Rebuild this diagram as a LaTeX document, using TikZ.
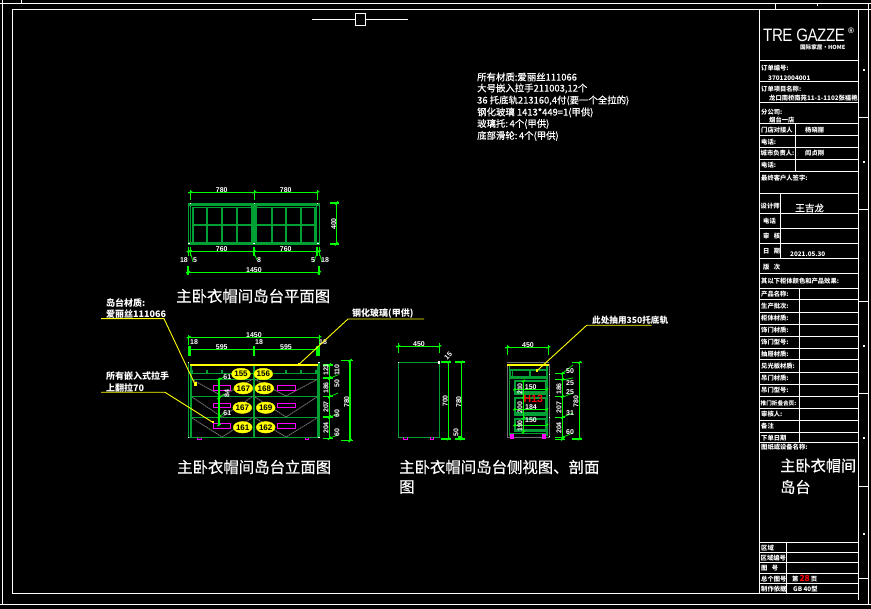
\documentclass[tikz,border=0pt]{standalone}
\usepackage{fontspec}
\setmainfont{Noto Sans CJK SC}
\newfontfamily\latinfont{Liberation Sans}
\newfontfamily\digfont{Liberation Sans}
\definecolor{dimg}{HTML}{00FF00}
\definecolor{cabg}{HTML}{00A035}
\definecolor{yel}{HTML}{FFFF00}
\definecolor{mag}{HTML}{FF00FF}
\definecolor{gry}{HTML}{707070}
\usetikzlibrary{shapes.geometric}
\tikzset{
  frameline/.style={draw=white,line width=1pt},
  tb/.style={anchor=west,text=white,inner sep=0pt,font=\fontsize{6.3}{6.3}\selectfont\bfseries},
  note/.style={anchor=west,text=white,inner sep=0pt,font=\fontsize{9.4}{9.4}\selectfont\addfontfeature{FakeBold=0.5}},
  bigt/.style={anchor=west,text=white,inner sep=0pt,font=\fontsize{15.4}{15.4}\selectfont\addfontfeature{FakeBold=0.6}},
  lab/.style={anchor=west,text=white,inner sep=0pt,font=\fontsize{9}{9}\selectfont\bfseries},
  dimt/.style={text=white,inner sep=0pt,font=\fontsize{7}{7}\selectfont\bfseries\digfont},
  dimline/.style={draw=dimg,line width=1.1pt},
  cab/.style={draw=cabg,line width=1.1pt},
  cabt/.style={draw=cabg,line width=1.6pt},
  lead/.style={draw=yel,line width=0.9pt},
  drawerpull/.style={draw=mag,line width=1pt},
  ghost/.style={draw=gry,line width=0.9pt,dash pattern=on 1.6pt off 0.6pt},
  oval/.style={ellipse,draw=yel,fill=yel,text=black,inner sep=0pt,minimum width=18pt,minimum height=11.5pt,font=\fontsize{8}{8}\selectfont\bfseries\digfont},
}
\begin{document}
\begin{tikzpicture}[x=1pt,y=-1pt]
\useasboundingbox (0,0) rectangle (871,609);
\fill[black] (0,0) rectangle (871,609);
% ---- sheet frame
\draw[frameline] (0,3.3) -- (871,3.3);
\draw[frameline] (2.5,0) -- (2.5,604.3);
\draw[frameline] (0,604.3) -- (871,604.3);
\draw[frameline] (868.3,3.3) -- (868.3,604.3);
\draw[frameline] (12.5,9.3) -- (871,9.3);
\draw[frameline] (12.5,9.3) -- (12.5,593.7) -- (858.3,593.7);
\draw[frameline] (858.3,9.3) -- (858.3,600);
\draw[frameline] (21.5,0) -- (21.5,3.3);
\draw[frameline] (775,3.3) -- (775,9.3);
\draw[frameline] (817,3.3) -- (817,6.3);
\foreach \y in {118,210,302,394,487,579} \draw[frameline] (858.3,\y) -- (868.3,\y);
\foreach \y in {70,162,346,438,534} \fill[white] (863,\y-1) rectangle (865,\y+1);
% centre mark
\draw[frameline] (312,19.3) -- (355,19.3) (365.7,19.3) -- (408,19.3);
\draw[frameline] (355,13.3) rectangle (365.7,25.3);
% ---- title block
\draw[frameline] (759.5,9.3) -- (759.5,593.7);
\foreach \y in {61,82,103,124,136,147.7,159.3,171.7,194,213.3,228.5,243.3,258.3,274,288.3,300,312.3,324.3,336.3,348.3,360,372.3,384.3,396.3,408.3,420.3,432.3,442.3,542.3,552.3,562.3,573.3,583.3}
  \draw[frameline] (759.5,\y) -- (858.3,\y);
\draw[frameline] (795.7,124) -- (795.7,171.7);
\draw[frameline] (780.3,194) -- (780.3,258.3);
\draw[frameline] (799.3,288.3) -- (799.3,442.3);
\draw[frameline] (786.3,542.3) -- (786.3,593.7);
% logo
\node[anchor=west,text=white,inner sep=0pt] (logo) at (763,35) {\scalebox{0.84}[1]{\latinfont\fontsize{18}{18}\selectfont\addfontfeature{LetterSpace=-3}TRE GAZZE}};
\node[text=white,inner sep=0pt,font=\latinfont\fontsize{8}{8}\selectfont\bfseries] (logor) at (851,30.5) {®};
\node[anchor=east,text=white,inner sep=0pt,font=\fontsize{5.6}{5.6}\selectfont\bfseries] (logos) at (845.5,47) {国际家居·HOME};
% title block text
\node[tb] (t1) at (761,68) {订单编号:};
\node[tb] (t2) at (768,78) {37012004001};
\node[tb] (t3) at (761,89) {订单项目名称:};
\node[tb] (t4) at (769,98) {龙口南桥南苑11-1-1102张福艳};
\node[tb] (t5) at (761,112) {分公司:};
\node[tb] (t6) at (769,120) {烟台一店};
\node[tb] (t7) at (761,130) {门店对接人};
\node[tb] (t8) at (805,130) {杨晓丽};
\node[tb] (t9) at (761,142) {电话:};
\node[tb] (t10) at (760.5,153.5) {城市负责人:};
\node[tb] (t11) at (805,153.5) {阎贞刚};
\node[tb] (t12) at (761,165.5) {电话:};
\node[tb] (t13) at (761,178) {最终客户人签字:};
\node[tb] (t14) at (760.5,206) {设计师};
\node[anchor=west,text=white,inner sep=0pt,font=\fontsize{9.6}{9.6}\selectfont\addfontfeature{FakeBold=0.5}] (t15) at (795,208) {王吉龙};
\node[tb] (t16) at (763,221) {电话};
\node[tb] (t17) at (763,236) {审\ \ \ 核};
\node[tb] (t18) at (763,251) {日\ \ \ 期};
\node[tb] (t19) at (790,254) {2021.05.30};
\node[tb] (t20) at (763,267) {版\ \ \ 次};
\node[tb] (t21) at (761,281.5) {其以下柜体颜色和产品效果:};
\node[tb] (t22) at (761,294.5) {产品名称:};
\node[tb] (t23) at (761,306.5) {生产批次:};
\node[tb] (t24) at (761,318.5) {柜体材质:};
\node[tb] (t25) at (761,330.5) {饰门材质:};
\node[tb] (t26) at (761,342.5) {饰门型号:};
\node[tb] (t27) at (761,354.5) {抽屉材质:};
\node[tb] (t28) at (761,366) {见光板材质:};
\node[tb] (t29) at (761,378) {吊门材质:};
\node[tb] (t30) at (761,390) {吊门型号:};
\node[tb,font=\fontsize{5.6}{5.6}\selectfont\bfseries] (t31) at (760.5,403) {推门折叠合页:};
\node[tb] (t32) at (761,414) {审核人:};
\node[tb] (t33) at (761,426.5) {备注};
\node[tb] (t34) at (761,438) {下单日期};
\node[tb] (t35) at (761,447.5) {图纸或设备名称:};
\node[anchor=west,text=white,inner sep=0pt,font=\fontsize{15.2}{15.2}\selectfont\addfontfeature{FakeBold=0.6}] (t36) at (780,465.5) {主卧衣帽间};
\node[anchor=west,text=white,inner sep=0pt,font=\fontsize{15.2}{15.2}\selectfont\addfontfeature{FakeBold=0.6}] (t37) at (780,487) {岛台};
\node[tb] (t38) at (761,548) {区域};
\node[tb] (t39) at (760.5,558) {区域编号};
\node[tb] (t40) at (761,568) {图\ \ \ 号};
\node[tb] (t41) at (761,579) {总个图号};
\node[tb] (t42) at (761,589) {制作依据};
\node[tb] (t43) at (792,578.5) {第\,{\color{red}\fontsize{8.5}{8.5}\selectfont 28}\,页};
\node[tb] (t44) at (793,589) {GB 40型};
% ---- notes
\node[note] (n1) at (477,77) {所有材质:爱丽丝111066};
\node[note] (n2) at (477,88.5) {大号嵌入拉手211003,12个};
\node[note] (n3) at (477,100.5) {36 托底轨213160,4付(要一个全拉的)};
\node[note] (n4) at (477,112.5) {钢化玻璃 1413*449=1(甲供)};
\node[note] (n5) at (477,124) {玻璃托:\,4个(甲供)};
\node[note] (n6) at (477,136) {底部滑轮:\,4个(甲供)};
% ---- plan view
\draw[cab] (188.3,203.3) rectangle (319.3,244);
\draw[cab] (190.7,203.3) -- (190.7,244) (316.7,203.3) -- (316.7,244);
\fill[cabg] (188.3,203.3) rectangle (319.3,206.5);
\fill[cabg] (188.3,242.5) rectangle (319.3,244.5);
\fill[cabg] (251,203.3) rectangle (256.7,244);
\foreach \x in {192.7,206.7,221.7,236.7,271.7,286,300.7,315.2} \draw[cabt] (\x,207) -- (\x,243);
\draw[cabt] (192.7,225) -- (251,225) (256.7,225) -- (315.2,225);
\draw[cab] (192.7,207.3) -- (251,207.3) (256.7,207.3) -- (315.2,207.3);
\foreach \x/\y in {190.3/203.3,254.3/203.3,317.3/203.3,189/243.5,254/243.5,318/243.5} \fill[white] (\x-0.7,\y-0.7) rectangle (\x+0.7,\y+0.7);
\draw[dimline] (190.3,192.3) -- (317.3,192.3);
\foreach \x in {190.3,254.3,317.3} {\draw[dimline] (\x,190) -- (\x,200); \draw[dimline,line width=1.3pt] (\x-2,193) -- (\x+2,191.5);}
\draw[dimline] (188,251.3) -- (320,251.3);
\foreach \x in {188.3,190.5,254,317,319.3} {\draw[dimline] (\x,247) -- (\x,256); \draw[dimline,line width=1.3pt] (\x-1.5,252) -- (\x+1.5,250.5);}
\draw[dimline,line width=0.7pt] (190.5,253) -- (193,262) (254,253) -- (257,260) (317,253) -- (314,262) (319.3,253) -- (322,262);
\draw[dimline] (188,272.3) -- (319,272.3);
\foreach \x in {188,319} {\draw[dimline] (\x,266) -- (\x,275); \draw[dimline,line width=1.3pt] (\x-2,273) -- (\x+2,271.5);}
\draw[dimline] (336.3,203) -- (336.3,244);
\foreach \y in {203,244} {\draw[dimline] (330,\y) -- (339,\y); \draw[dimline,line width=1.3pt] (335,\y+1.5) -- (338,\y-1.5);}
\node[dimt] (p1) at (221.7,189.7) {780};
\node[dimt] (p2) at (285.7,189.7) {780};
\node[dimt] (p3) at (221.7,249) {760};
\node[dimt] (p4) at (285.7,249) {760};
\node[dimt] (p5) at (184,260) {18};
\node[dimt] (p6) at (195,260) {5};
\node[dimt] (p7) at (259,260) {8};
\node[dimt] (p8) at (313,260) {5};
\node[dimt] (p9) at (325,260) {18};
\node[dimt] (p10) at (254,270) {1450};
\node[dimt,rotate=90] (p11) at (333.7,224) {400};
\node[bigt] (title1) at (176,296) {主卧衣帽间岛台平面图};
% ---- elevation
\draw[cab] (188.3,362) -- (188.3,437.3) -- (319,437.3) -- (319,362);
\draw[cab] (191,366) -- (191,437) (317.5,366) -- (317.5,437);
\foreach \y in {373.3,379.3,396.3,417.3} \draw[cab] (191,\y) -- (317.5,\y);
\draw[cabt] (253.7,366) -- (253.7,437.3);
\foreach \x in {192,206.7,221.7,236.7,270.7,286,300.7,316} \fill[cabg] (\x-0.8,370) rectangle (\x+0.8,373);
\draw[draw=yel,line width=2pt] (190,364.7) -- (317.7,364.7);
\foreach \x/\y in {188.3/362.5,319/362.5,188.3/437.5,319/437.5} \fill[white] (\x-0.7,\y-0.7) rectangle (\x+0.7,\y+0.7);
\foreach \a/\b in {379.5/396,397/417,418/437}
  \draw[ghost] (192,\a) -- (222,\b) -- (252,\a) (255,\a) -- (286,\b) -- (317,\a);
\foreach \a/\b in {385.3/390.7,403.3/407.7,423.3/428.7} {
  \draw[drawerpull] (213.3,\a) rectangle (230.7,\b);
  \draw[drawerpull] (277.3,\a) rectangle (295,\b);
}
\draw[drawerpull] (197,438) -- (197,440) -- (201.5,440) -- (201.5,438);
\draw[drawerpull] (305,438) -- (305,440) -- (308.5,440) -- (308.5,438);
\node[oval] (o1) at (241,374) {155};
\node[oval] (o2) at (263.3,374) {156};
\node[oval] (o3) at (243.3,388.3) {167};
\node[oval] (o4) at (264.3,388.3) {168};
\node[oval] (o5) at (242.3,407.7) {167};
\node[oval] (o6) at (265.7,407.7) {169};
\node[oval] (o7) at (242.7,427.3) {161};
\node[oval] (o8) at (265.7,427.3) {162};
% interior dims
\draw[dimline] (219,379) -- (219,425);
\foreach \y in {379,398,417,425} {\draw[dimline,line width=1.3pt] (217.5,\y+1) -- (220.5,\y-1);}
\draw[dimline,line width=0.7pt] (219,380) -- (224,377) (219,398) -- (224,394) (219,417) -- (224,413);
\node[dimt] (e1) at (227.3,377) {61};
\node[dimt,rotate=90] (e2) at (227,394) {84};
\node[dimt] (e3) at (227.3,413) {61};
% top dims
\draw[dimline] (188.7,337.3) -- (319.3,337.3);
\foreach \x in {188.7,319.3} {\draw[dimline] (\x,335) -- (\x,345); \draw[dimline,line width=1.3pt] (\x-2,338) -- (\x+2,336.5);}
\draw[dimline] (188.7,349.3) -- (319.3,349.3);
\foreach \x in {189,190.5,254,317,319} {\draw[dimline] (\x,346) -- (\x,356);}
\node[dimt] (e4) at (254,334.7) {1450};
\node[dimt] (e5) at (194,342) {18};
\node[dimt] (e6) at (259,342) {18};
\node[dimt] (e7) at (323,342) {18};
\node[dimt] (e8) at (221.7,347.5) {595};
\node[dimt] (e9) at (286,347.5) {595};
% right dims
\draw[dimline] (329.3,365) -- (329.3,438.3);
\foreach \y in {365,378,396.7,417,438.3} {\draw[dimline] (323,\y) -- (333,\y); \draw[dimline,line width=1.3pt] (328,\y+1.5) -- (331,\y-1.5);}
\draw[dimline,line width=0.7pt] (330,378) -- (338,375) (330,396.7) -- (338,393) (330,417) -- (338,414) (330,438) -- (338,435);
\draw[dimline] (350,360.7) -- (350,440.7);
\foreach \y in {360.7,440.7} {\draw[dimline] (341,\y) -- (353,\y); \draw[dimline,line width=1.3pt] (348.5,\y+1.5) -- (351.5,\y-1.5);}
\node[dimt,rotate=90] (r1) at (326,370) {123};
\node[dimt,rotate=90] (r2) at (326,388) {186};
\node[dimt,rotate=90] (r3) at (326,407) {207};
\node[dimt,rotate=90] (r4) at (326,428) {204};
\node[dimt,rotate=90] (r5) at (337,370) {110};
\node[dimt,rotate=90] (r6) at (337,384) {50};
\node[dimt,rotate=90] (r7) at (337,413.5) {60};
\node[dimt,rotate=90] (r8) at (337,433) {60};
\node[dimt,rotate=90] (r9) at (346.7,402) {780};
% labels and leaders
\node[lab] (l1) at (106,302.5) {岛台材质:};
\node[lab] (l2) at (106,314) {爱丽丝111066};
\node[lab] (l3) at (106,376) {所有嵌入式拉手};
\node[lab] (l4) at (106,388) {上翻拉70};
\node[lab] (l5) at (352,314) {钢化玻璃(甲供)};
\coordinate (a1s) at (101,318.7); \coordinate (a1k) at (164,318.7); \coordinate (a1e) at (195,384.3);
\coordinate (a2s) at (101,392.3); \coordinate (a2k) at (165,392.3); \coordinate (a2e) at (212.7,422.3);
\coordinate (a3s) at (424,319); \coordinate (a3k) at (348,319); \coordinate (a3e) at (299,364.3);
\draw[lead] (a1s) -- (a1k) -- (a1e);
\draw[lead] (a2s) -- (a2k) -- (a2e);
\draw[lead] (a3s) -- (a3k) -- (a3e);
\fill[yel] (a1e) ++(-1.5,-2) rectangle ++(3.5,3.5);
\fill[yel] (a2e) ++(-1,-1) rectangle ++(2,2);
\fill[yel] (a3e) ++(-1,-1) rectangle ++(2,2);
\node[bigt] (title2) at (177,467) {主卧衣帽间岛台立面图};
% ---- side view
\draw[cab] (398.3,362.3) rectangle (439.3,437.3);
\fill[white] (398,362) rectangle (399,363.5);
\fill[white] (438,361.5) rectangle (439.5,364);
\draw[dimline] (398.3,346.3) -- (439.3,346.3);
\foreach \x in {398.3,439.3} {\draw[dimline] (\x,343) -- (\x,353); \draw[dimline,line width=1.3pt] (\x-2,347) -- (\x+2,345.5);}
\draw[dimline] (448.3,362) -- (448.3,439);
\draw[dimline] (461.3,361) -- (461.3,439);
\foreach \y in {362,439} {\draw[dimline] (441,\y) -- (451,\y); \draw[dimline] (455,\y) -- (465,\y);\draw[dimline,line width=1.3pt] (447,\y+1) -- (450,\y-1);\draw[dimline,line width=1.3pt] (460,\y+1) -- (463,\y-1);}
\draw[dimline] (458,437) -- (461.3,437);
\draw[drawerpull] (403.5,437.5) -- (403.5,439.5) -- (407,439.5) -- (407,437.5);
\draw[drawerpull] (430.5,437.5) -- (430.5,439.5) -- (433.5,439.5) -- (433.5,437.5);
\node[dimt] (s1) at (419,343.7) {450};
\node[dimt,rotate=45] (s2) at (448.3,355.7) {15};
\node[dimt,rotate=90] (s3) at (445.3,401) {700};
\node[dimt,rotate=90] (s4) at (458.7,402) {780};
\node[dimt,rotate=90] (s5) at (456,433) {50};
% ---- section
\draw[draw=gry,line width=1pt] (507.3,362.3) -- (549,362.3) (507.3,364) -- (507.3,437.3) -- (549,437.3) -- (549,364);
\draw[cab] (509.5,366) -- (509.5,436) (547,366) -- (547,436);
\draw[draw=yel,line width=1.8pt] (507.3,364.7) -- (549,364.7);
\draw[cab] (510,370) rectangle (546.7,378) (512.5,371) -- (512.5,376) (530,370.5) -- (530,376);
\fill[cabg] (510,375.8) rectangle (546.7,378.3);
\draw[cabt] (515,381) rectangle (546,394.3);
\fill[cabg] (515,391.5) rectangle (546,394.5);
\draw[cabt] (515,398.3) rectangle (546,415);
\fill[cabg] (515,412.5) rectangle (546,415.3);
\draw[cabt] (515,419.3) rectangle (546,431.7);
\fill[cabg] (515,429.5) rectangle (546,432);
\draw[cab] (509.5,433.5) -- (547,433.5);
\fill[mag] (510.3,434) rectangle (514.3,439.5);
\fill[mag] (541.7,434) rectangle (545.7,439.5);
\foreach \y in {374,395,417,436} \fill[white] (548.5,\y) rectangle (549.5,\y+1);
\draw[dimline] (507.3,347.3) -- (548.3,347.3);
\foreach \x in {507.3,548.3} {\draw[dimline] (\x,345) -- (\x,355); \draw[dimline,line width=1.3pt] (\x-2,348) -- (\x+2,346.5);}
\draw[dimline,line width=0.8pt] (523.3,380) -- (523.3,432);
\draw[dimline,line width=0.8pt] (514,389.3) -- (547,389.3) (514,409.3) -- (547,409.3) (514,425) -- (547,425);
\foreach \y in {381,397,418,432} \draw[dimline,line width=1.3pt] (522,\y+1) -- (525,\y-1);
\foreach \y in {389.3,409.3,425} {\draw[dimline,line width=1.3pt] (513.5,\y+1) -- (515.5,\y-1); \draw[dimline,line width=1.3pt] (546,\y+1) -- (548,\y-1);}
\node[dimt] (x1) at (528,345) {450};
\node[dimt] (x2) at (530.7,386.7) {150};
\node[dimt] (x3) at (531,407) {184};
\node[dimt] (x4) at (531,420) {150};
\node[dimt,rotate=90] (x5) at (520,389) {210};
\node[dimt,rotate=90] (x6) at (520,407.7) {200};
\node[dimt,rotate=90] (x7) at (520,426) {190};
\node[text=red,inner sep=0pt,font=\fontsize{10.5}{10.5}\selectfont\bfseries\digfont] (h13) at (533.3,399.3) {H13};
% section right dims
\draw[dimline] (562.3,371.7) -- (562.3,439.3);
\foreach \y in {373.3,379.3,396.7,417.3,437.3,439.3} {\draw[dimline] (555,\y) -- (565,\y); \draw[dimline,line width=1.3pt] (561,\y+1) -- (564,\y-1);}
\draw[dimline,line width=0.8pt] (579.3,362) -- (579.3,439);
\foreach \y in {362.3,439} {\draw[dimline] (572,\y) -- (582,\y); \draw[dimline,line width=1.3pt] (578,\y+1) -- (581,\y-1);}
\draw[dimline,line width=0.7pt] (563,373) -- (573,365) (563,380) -- (573,378) (563,397) -- (573,393) (563,417) -- (573,413) (563,437) -- (573,433);
\node[dimt,rotate=90] (y1) at (559,389) {186};
\node[dimt,rotate=90] (y2) at (559,407.7) {207};
\node[dimt,rotate=90] (y3) at (559,428) {204};
\node[dimt] (y4) at (570,371) {50};
\node[dimt] (y5) at (570,383) {25};
\node[dimt] (y6) at (570,392) {25};
\node[dimt] (y7) at (570,413) {31};
\node[dimt] (y8) at (570,432) {60};
\node[dimt,rotate=90] (y9) at (576,401.7) {780};
% section leader
\node[lab,font=\fontsize{8.6}{8.6}\selectfont\bfseries] (l6) at (592,320) {此处抽用350托底轨};
\coordinate (b1s) at (651.7,325.3); \coordinate (b1k) at (586.7,325.3); \coordinate (b1e) at (536.7,371);
\draw[lead] (b1s) -- (b1k) -- (b1e);
\fill[yel] (b1e) ++(-1,-1.5) rectangle ++(2.5,3);
% titles
\node[bigt] (title3) at (399,467) {主卧衣帽间岛台侧视图、剖面};
\node[bigt] (title4) at (399,487) {图};
\end{tikzpicture}
\end{document}
